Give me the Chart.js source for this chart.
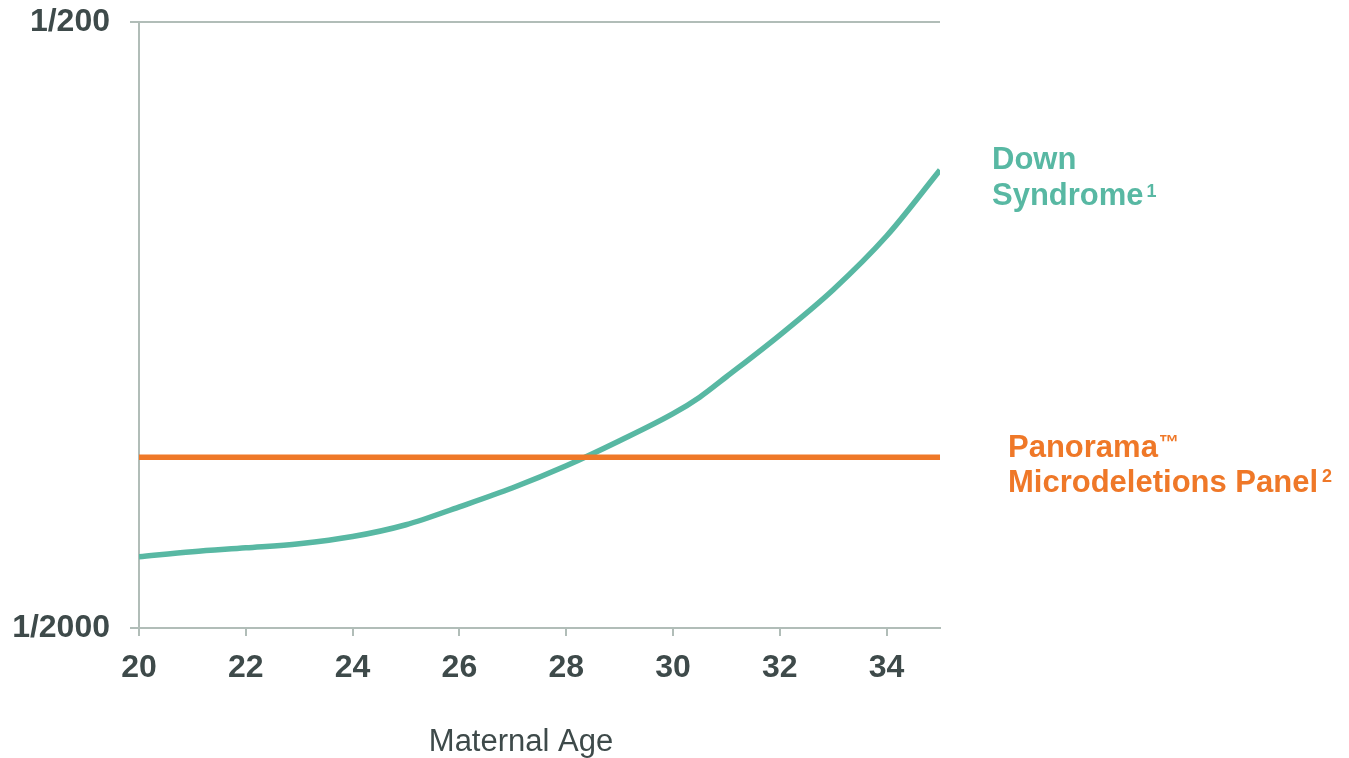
<!DOCTYPE html>
<html>
<head>
<meta charset="utf-8">
<title>Maternal Age Risk</title>
<script src="https://cdn.jsdelivr.net/npm/chart.js@4"></script>
<style>
    html, body { margin: 0; padding: 0; background: #ffffff; }
    #wrap { width: 1349px; height: 758px; position: relative; }
</style>
</head>
<body>
<div id="wrap"><canvas id="riskChart"></canvas></div>
<script>
// Ages (years) and risk denominators (risk = 1 / value)
const ages = [20, 21, 22, 23, 24, 25, 26, 27, 28, 29, 30, 30.5, 31, 32, 33, 34, 35];
const downDenominators = [1526, 1497, 1475, 1452, 1413, 1351, 1262, 1174, 1080, 982, 886, 832, 770, 657, 553, 451, 351];
const panoramaAges = [20, 35];
const panoramaDenominators = [1045, 1045];
const xTicks = [20, 22, 24, 26, 28, 30, 32, 34];
const yTickDenominators = [2000, 200];

const GREEN = '#58b8a3';
const ORANGE = '#ef7828';
const AXIS_GREY = '#b1bdb8';
const TEXT_DARK = '#3e4a4a';
const FONT = '"Liberation Sans", Arial, sans-serif';

const toPoints = (xs, ds) => xs.map((x, i) => ({ x: x, y: 1 / ds[i] }));

// Series labels at the right and the x-axis title
const labelPlugin = {
    id: 'sideLabels',
    afterDraw(chart) {
        const ctx = chart.ctx;
        ctx.save();
        ctx.textBaseline = 'alphabetic';
        ctx.textAlign = 'left';

        ctx.fillStyle = GREEN;
        ctx.font = 'bold 31px ' + FONT;
        ctx.fillText('Down', 992, 169);
        ctx.fillText('Syndrome', 992, 205);
        let w = ctx.measureText('Syndrome').width;
        ctx.font = 'bold 18px ' + FONT;
        ctx.fillText('1', 992 + w + 3, 197);

        ctx.fillStyle = ORANGE;
        ctx.font = 'bold 31px ' + FONT;
        ctx.fillText('Panorama', 1008, 457);
        w = ctx.measureText('Panorama').width;
        ctx.font = 'bold 20px ' + FONT;
        ctx.fillText('\u2122', 1008 + w + 1, 449);
        ctx.font = 'bold 31px ' + FONT;
        ctx.fillText('Microdeletions Panel', 1008, 492);
        w = ctx.measureText('Microdeletions Panel').width;
        ctx.font = 'bold 18px ' + FONT;
        ctx.fillText('2', 1008 + w + 4, 482);

        ctx.fillStyle = TEXT_DARK;
        ctx.font = '31px ' + FONT;
        ctx.textAlign = 'center';
        ctx.fillText('Maternal Age', 521, 751);
        ctx.restore();
    }
};

document.addEventListener("DOMContentLoaded", function () {
    const ctx = document.getElementById('riskChart');
    new Chart(ctx, {
        type: 'line',
        data: {
            datasets: [
                {
                    label: 'Panorama Microdeletions Panel',
                    data: toPoints(panoramaAges, panoramaDenominators),
                    borderColor: ORANGE,
                    borderWidth: 5.5,
                    pointRadius: 0,
                    tension: 0
                },
                {
                    label: 'Down Syndrome',
                    data: toPoints(ages, downDenominators),
                    borderColor: GREEN,
                    borderWidth: 5.5,
                    pointRadius: 0,
                    cubicInterpolationMode: 'monotone'
                }
            ]
        },
        options: {
            responsive: true,
            maintainAspectRatio: false,
            animation: false,
            layout: { padding: { left: 0, right: 409, top: 22, bottom: 0 } },
            plugins: {
                legend: { display: false },
                tooltip: { enabled: false }
            },
            scales: {
                x: {
                    type: 'linear',
                    min: 20,
                    max: 35,
                    afterBuildTicks: scale => {
                        scale.ticks = xTicks.map(v => ({ value: v }));
                    },
                    afterFit: scale => { scale.height = 130; },
                    grid: {
                        drawOnChartArea: false,
                        color: AXIS_GREY,
                        lineWidth: 2,
                        tickLength: 8
                    },
                    border: { color: AXIS_GREY, width: 2 },
                    ticks: {
                        color: TEXT_DARK,
                        font: { family: FONT, size: 32, weight: 'bold' },
                        padding: 13,
                        maxRotation: 0
                    }
                },
                y: {
                    type: 'logarithmic',
                    min: 1 / 2000,
                    max: 1 / 200,
                    afterBuildTicks: scale => {
                        scale.ticks = yTickDenominators.map(d => ({ value: 1 / d }));
                    },
                    afterFit: scale => {
                        scale.width = 139;
                        scale.paddingTop = 0;
                        scale.paddingBottom = 0;
                    },
                    grid: {
                        color: AXIS_GREY,
                        lineWidth: 2,
                        tickLength: 9
                    },
                    border: { color: AXIS_GREY, width: 2 },
                    ticks: {
                        color: TEXT_DARK,
                        font: { family: FONT, size: 32, weight: 'bold' },
                        padding: 20,
                        callback: v => '1/' + Math.round(1 / v)
                    }
                }
            }
        },
        plugins: [labelPlugin]
    });
});
</script>
</body>
</html>
